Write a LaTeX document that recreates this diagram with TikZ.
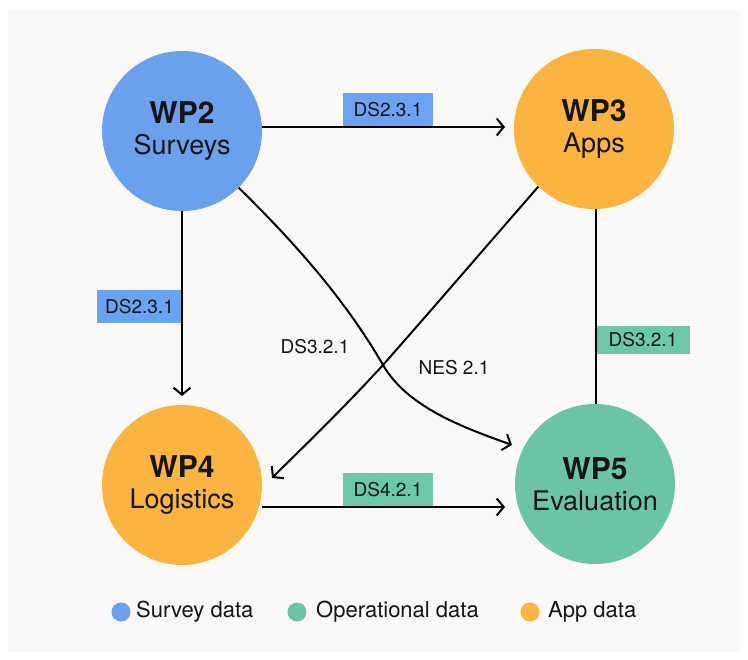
\documentclass[tikz,border=0pt]{standalone}
\usepackage{fontspec}
\setmainfont{TeX Gyre Heros}
\usetikzlibrary{arrows.meta}
\definecolor{bgc}{HTML}{FAF9F7}
\definecolor{wpblue}{HTML}{6AA0EC}
\definecolor{wporange}{HTML}{F9B540}
\definecolor{wpgreen}{HTML}{6CC4A8}
\definecolor{boxblue}{HTML}{6CA2F2}
\definecolor{boxgreen}{HTML}{6CC8AA}
\definecolor{txt}{HTML}{151515}
\tikzset{
  wpnode/.style={circle, minimum size=160pt, inner sep=0pt, align=center, text=txt},
  lblbox/.style={rectangle, inner sep=0pt, minimum width=90pt, minimum height=33pt, text=txt, font=\fontsize{19}{19}\selectfont},
  plainlbl/.style={inner sep=0pt, text=txt, font=\fontsize{19}{19}\selectfont},
  conn/.style={line width=2pt, draw=black},
  arr/.style={conn, -{Straight Barb[length=7pt,width=17pt]}},
  legdot/.style={circle, minimum size=19pt, inner sep=0pt},
  legtxt/.style={anchor=west, inner sep=0pt, text=txt, font=\fontsize{22}{22}\selectfont}
}
\newcommand{\wpt}[2]{{\fontsize{30}{30}\selectfont\bfseries #1}\\[10pt]{\fontsize{27}{27}\selectfont #2}}
\begin{document}
\begin{tikzpicture}[x=1pt,y=-1pt]
\useasboundingbox (0,0) rectangle (748,660);
\fill[white] (0,0) rectangle (748,660);
\fill[bgc] (8,10) rectangle (740,652);

% work package circles
\node[wpnode, fill=wpblue]   (wp2) at (182,131) {\wpt{WP2}{Surveys}};
\node[wpnode, fill=wporange] (wp3) at (594,129) {\wpt{WP3}{Apps}};
\node[wpnode, fill=wporange] (wp4) at (182,485) {\wpt{WP4}{Logistics}};
\node[wpnode, fill=wpgreen]  (wp5) at (595,484) {\wpt{WP5}{Evaluation}};

% label boxes
\node[lblbox, fill=boxblue] (l23a) at (388,110) {DS2.3.1};
\node[lblbox, fill=boxblue, minimum width=85pt] (l23b) at (139.5,306.5) {DS2.3.1};
\node[lblbox, fill=boxgreen, minimum width=93pt, minimum height=28pt] (l32) at (643,340) {DS3.2.1};
\node[lblbox, fill=boxgreen] (l42) at (388,490) {DS4.2.1};
\node[plainlbl] (p32) at (315,347) {DS3.2.1};
\node[plainlbl] (p52) at (454,368) {NES 2.1};

% connectors
\coordinate (e23) at (505,127);
\coordinate (e24) at (182,396);
\coordinate (e45) at (505,507);
\coordinate (e25) at (512,445);
\coordinate (e34) at (272,478);
\coordinate (cross) at (383,365);
\draw[arr] (wp2.east |- e23) -- (e23);
\draw[arr] (wp2.south) -- (e24);
\draw[arr] (wp4.east |- e45) -- (e45);
\draw[conn] (wp3.south -| l32.west) -- (wp5.north -| l32.west);
\draw[arr] (wp2.-45) .. controls (293,241) and (345,299) .. (cross)
                     .. controls (408,408) and (465,428) .. (e25);
\draw[arr] (wp3.226) .. controls (490,242) and (435,306) .. (cross)
                     .. controls (340,412) and (300,450) .. (e34);

% legend
\node[legdot, fill=wpblue]   (d1) at (121,612) {};
\node[legtxt] (t1) at (136,612) {Survey data};
\node[legdot, fill=wpgreen]  (d2) at (297,612) {};
\node[legtxt] (t2) at (316,612) {Operational data};
\node[legdot, fill=wporange] (d3) at (530,612) {};
\node[legtxt] (t3) at (548,612) {App data};
\end{tikzpicture}
\end{document}
